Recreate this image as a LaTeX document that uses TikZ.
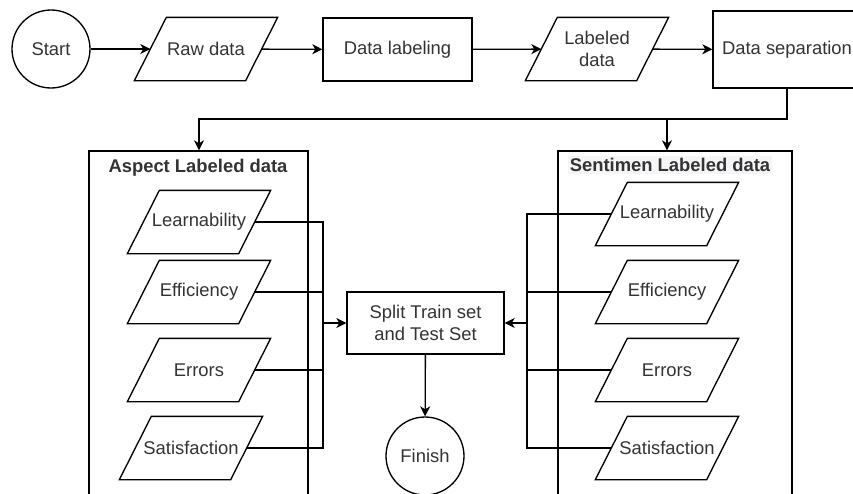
\documentclass[tikz,border=0pt]{standalone}
\usepackage{fontspec}
\setmainfont{Liberation Sans}
\usetikzlibrary{arrows.meta}
\definecolor{txt}{HTML}{333333}
\definecolor{titlebg}{HTML}{F5F5F7}
\begin{document}
\begin{tikzpicture}[x=0.75pt,y=-0.75pt,
  line width=1pt,
  font=\fontsize{13.8}{16}\selectfont,
  arr/.style={-{Stealth[length=7.5pt,width=7.5pt,inset=2.2pt]}},
  base/.style={draw, text=txt, align=center, inner sep=0pt, fill=white},
  term/.style={base, circle, minimum size=58.5pt},
  proc/.style={base, rectangle, minimum width=112pt, minimum height=47pt},
  % data (parallelogram): the node is the box between the slanted sides' midpoints
  io/.style={text=txt, align=center, inner sep=0pt,
    minimum width=82.5pt, minimum height=46.5pt,
    append after command={\pgfextra{\draw[line width=1pt]
      ([xshift=-12pt]\tikzlastnode.south west) --
      ([xshift=-12pt]\tikzlastnode.south east) --
      ([xshift=12pt]\tikzlastnode.north east) --
      ([xshift=12pt]\tikzlastnode.north west) -- cycle;}}},
  group/.style={draw, rectangle, minimum width=#1, minimum height=307.5pt, inner sep=0pt},
  title/.style={font=\fontsize{13.8}{16}\selectfont\bfseries, text=txt, inner sep=1.5pt}
]
\useasboundingbox (0,0) rectangle (853,493);
\clip (0,0) rectangle (853,493);

% containers
\node[group=164.25pt] (aspbox) at (198.5,356) {};
\node[group=175.5pt] (sentbox) at (675,356) {};
\node[title] (asptitle) at (198,168) {Aspect Labeled data};
\node[title, fill=titlebg] (senttitle) at (670,165) {Sentimen Labeled data};

% top row
\node[term] (start) at (51,49) {Start};
\node[io] (raw) at (206,49) {Raw data};
\node[proc, minimum width=111.75pt, minimum height=47.25pt] (labeling) at (397.5,49.5) {Data labeling};
\node[io] (labeled) at (597,49) {Labeled\\data};
\node[proc, minimum width=111pt, minimum height=57.75pt] (sep) at (787,49.5) {Data separation};

% aspect items
\node[io] (al) at (199,222) {Learnability};
\node[io] (ae) at (199,292) {Efficiency};
\node[io] (ar) at (199,370) {Errors};
\node[io] (as) at (191,448) {Satisfaction};

% sentiment items
\node[io] (sl) at (667,214) {Learnability};
\node[io] (se) at (667,292) {Efficiency};
\node[io] (sr) at (667,370) {Errors};
\node[io] (ss) at (667,448) {Satisfaction};

% center
\node[proc, minimum width=117.75pt, minimum height=46.5pt] (split) at (425.5,323) {Split Train set\\and Test Set};
\node[term] (finish) at (425,456) {Finish};

% junction points
\coordinate (busL) at (199,119);
\coordinate (busR) at (667,119);
\coordinate (colL) at (323,323);
\coordinate (colR) at (527,323);

% top row flow
\draw[arr] (start) -- (raw);
\draw[arr] (raw) -- (labeling);
\draw[arr] (labeling) -- (labeled);
\draw[arr] (labeled) -- (sep);

% separation into the two groups
\draw[arr] (sep.south) |- (busL) -- (busL |- aspbox.north);
\draw[arr] (busR) -- (busR |- sentbox.north);

% aspect items to split
\draw (al.east) -| (colL);
\draw (ae.east) -| (colL);
\draw (ar.east) -| (colL);
\draw (as.east) -| (colL);
\draw[arr] (colL) -- (split.west);

% sentiment items to split
\draw (sl.west) -| (colR);
\draw (se.west) -| (colR);
\draw (sr.west) -| (colR);
\draw (ss.west) -| (colR);
\draw[arr] (colR) -- (split.east);

\draw[arr] (split) -- (finish);
\end{tikzpicture}
\end{document}
